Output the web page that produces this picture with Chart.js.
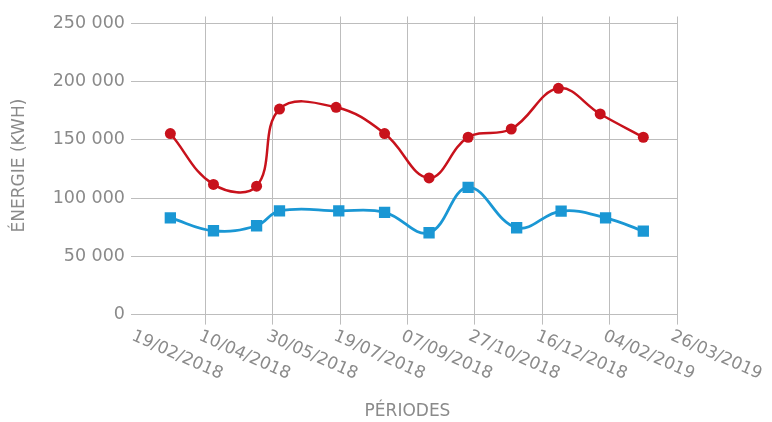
<!DOCTYPE html>
<html lang="fr">
<head>
<meta charset="utf-8">
<title>Énergie par période</title>
<script src="https://cdn.jsdelivr.net/npm/chart.js@4/dist/chart.umd.min.js"></script>
<style>
  html, body { margin: 0; padding: 0; background: #fff; }
  #wrap { width: 772px; height: 422px; }
</style>
</head>
<body>
<div id="wrap"><canvas id="chart" width="772" height="422"></canvas></div>
<script>
// dates des relevés (jj/mm/aaaa)
const redDates = ['15/03/2018', '16/04/2018', '18/05/2018', '04/06/2018', '16/07/2018', '21/08/2018',
    '23/09/2018', '22/10/2018', '23/11/2018', '28/12/2018', '28/01/2019', '01/03/2019'];
const redValues = [155500, 111800, 110300, 176500, 178000, 155500, 117400, 152300, 159400, 194300, 172300, 152300];

const blueDates = ['15/03/2018', '16/04/2018', '18/05/2018', '04/06/2018', '18/07/2018', '21/08/2018',
    '23/09/2018', '22/10/2018', '27/11/2018', '30/12/2018', '01/02/2019', '01/03/2019'];
const blueValues = [83100, 72000, 76300, 89100, 89100, 87800, 70300, 109200, 74600, 88900, 83100, 71700];

const xStart = '19/02/2018';
const xEnd = '26/03/2019';
const xStepDays = 50;
const yTicks = [0, 50000, 100000, 150000, 200000, 250000];

const DAY = 86400000;
const gray = '#8a8a8a';
const gridGray = '#bdbdbd';
const fontFamily = '"DejaVu Sans", sans-serif';

function parseDate(s) {
    const [d, m, y] = s.split('/').map(Number);
    return Date.UTC(y, m - 1, d);
}
const origin = parseDate(xStart);
const toDays = s => Math.round((parseDate(s) - origin) / DAY);

function formatDate(days) {
    const d = new Date(origin + days * DAY);
    const dd = String(d.getUTCDate()).padStart(2, '0');
    const mm = String(d.getUTCMonth() + 1).padStart(2, '0');
    return dd + '/' + mm + '/' + d.getUTCFullYear();
}

function formatNumber(v) {
    return String(v).replace(/\B(?=(\d{3})+(?!\d))/g, ' ');
}

const redPoints = redDates.map((s, i) => ({ x: toDays(s), y: redValues[i] }));
const bluePoints = blueDates.map((s, i) => ({ x: toDays(s), y: blueValues[i] }));

// libellés de dates inclinés vers le bas, dessinés depuis l'échelle x
const slantedLabels = {
    id: 'slantedLabels',
    afterDraw(chart) {
        const scale = chart.scales.x;
        const ctx = chart.ctx;
        ctx.save();
        ctx.font = '17px ' + fontFamily;
        ctx.fillStyle = gray;
        ctx.textAlign = 'left';
        ctx.textBaseline = 'top';
        scale.ticks.forEach(t => {
            const x = scale.getPixelForValue(t.value);
            ctx.save();
            ctx.translate(x - 2, scale.top + 13);
            ctx.rotate(24 * Math.PI / 180);
            ctx.fillText(formatDate(t.value), 0, 0);
            ctx.restore();
        });
        ctx.restore();
    }
};

const chart = new Chart(document.querySelector('#chart').getContext('2d'), {
    type: 'line',
    data: {
        datasets: [{
            label: 'Série 1',
            data: redPoints,
            borderColor: '#c8121c',
            backgroundColor: '#c8121c',
            borderWidth: 2.5,
            pointStyle: 'circle',
            pointRadius: 5.5,
            pointBorderWidth: 0,
            tension: 0.4,
            fill: false
        }, {
            label: 'Série 2',
            data: bluePoints,
            borderColor: '#1a97d4',
            backgroundColor: '#1a97d4',
            borderWidth: 2.8,
            pointStyle: 'rect',
            pointRadius: 8,
            pointBorderWidth: 0,
            tension: 0.4,
            fill: false
        }]
    },
    options: {
        responsive: false,
        animation: false,
        layout: { padding: { top: 15, right: 95, bottom: 0, left: 0 } },
        plugins: {
            legend: { display: false },
            tooltip: { enabled: false }
        },
        scales: {
            x: {
                type: 'linear',
                min: 0,
                max: toDays(xEnd),
                ticks: { display: false, stepSize: xStepDays },
                grid: {
                    color: ctx => ctx.index === 0 ? 'rgba(0,0,0,0)' : gridGray,
                    lineWidth: 1,
                    tickLength: 10
                },
                border: { display: false },
                title: {
                    display: true,
                    text: 'PÉRIODES',
                    color: gray,
                    font: { family: fontFamily, size: 17 },
                    padding: { top: 77, bottom: 0 }
                }
            },
            y: {
                min: 0,
                max: 256000,
                afterBuildTicks: scale => { scale.ticks = yTicks.map(v => ({ value: v })); },
                afterFit: scale => { scale.width = 138; },
                ticks: {
                    color: gray,
                    padding: 6,
                    font: { family: fontFamily, size: 17.5 },
                    callback: v => formatNumber(v)
                },
                grid: { color: gridGray, lineWidth: 1, tickLength: 7 },
                border: { display: false },
                title: {
                    display: true,
                    text: 'ÉNERGIE (KWH)',
                    color: gray,
                    font: { family: fontFamily, size: 17 },
                    padding: { top: 9, bottom: 0 }
                }
            }
        }
    },
    plugins: [slantedLabels]
});
</script>
</body>
</html>
